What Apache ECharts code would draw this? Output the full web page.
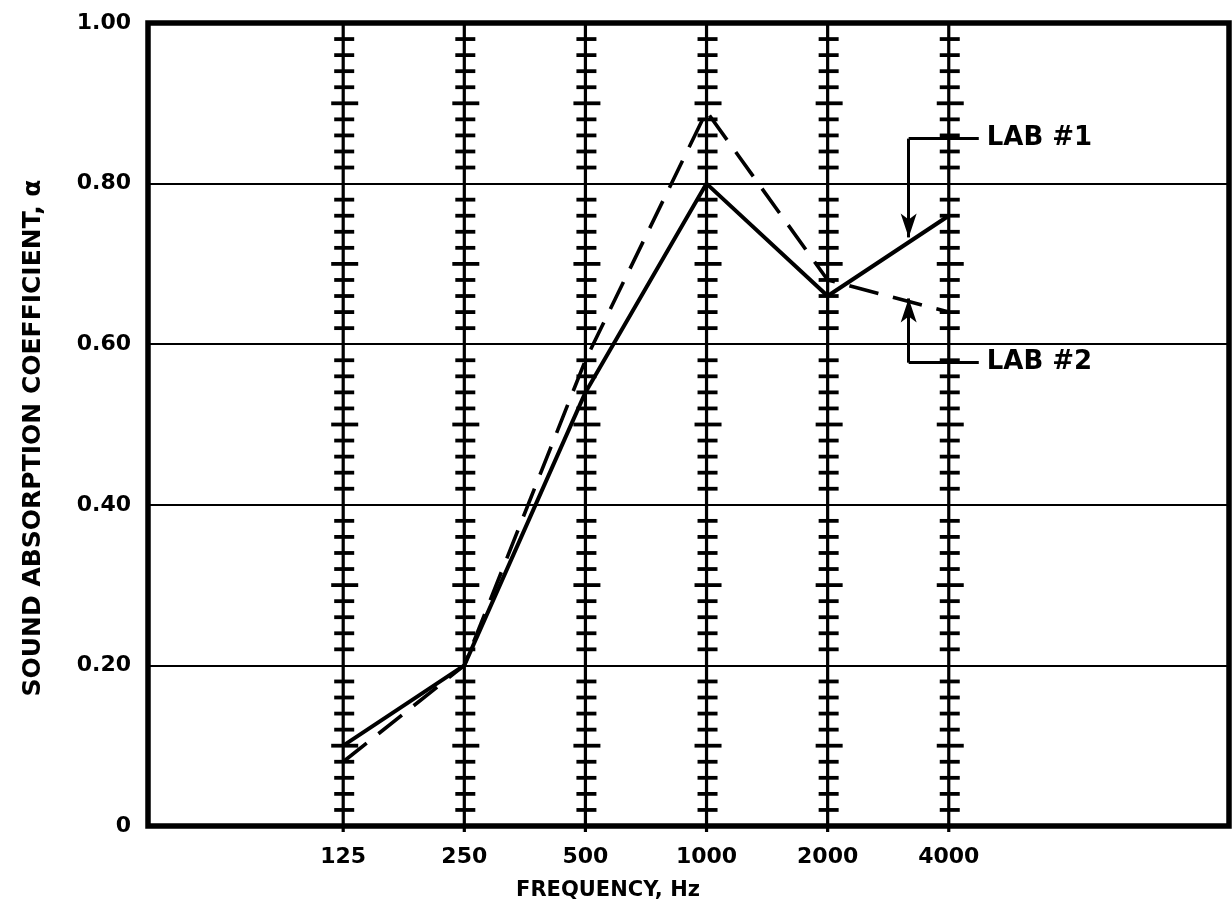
<!DOCTYPE html>
<html>
<head>
<meta charset="utf-8">
<title>Sound absorption coefficient</title>
<script src="https://cdn.jsdelivr.net/npm/echarts@6.0.0/dist/echarts.min.js"></script>
<style>
  html, body { margin: 0; padding: 0; background: #fff; }
  #main { width: 1232px; height: 915px; }
</style>
</head>
<body>
<div id="main"></div>
<script>
  // 数据
  let freqs = [125, 250, 500, 1000, 2000, 4000];
  let freqLabels = ['125', '250', '500', '1000', '2000', '4000'];
  let lab1 = [0.10, 0.20, 0.54, 0.80, 0.66, 0.76];
  let lab2 = [0.08, 0.20, 0.58, 0.89, 0.68, 0.64];

  // x轴范围 (log2)
  let xMin = 40.9, xMax = 19890;
  let font = 'DejaVu Sans';

  // 竖线上的刻度 (每0.02)
  let hashVals = [];
  for (let k = 1; k < 50; k++) {
    if (k % 10 !== 0) hashVals.push({ v: k * 0.02, long: k % 5 === 0 });
  }

  function renderHash(params, api) {
    let f = api.value(0);
    let top = api.coord([f, 1]);
    let bot = api.coord([f, 0]);
    let x = bot[0];
    let children = [{
      type: 'line',
      shape: { x1: x, y1: top[1], x2: x, y2: bot[1] + 6 },
      style: { stroke: '#000', lineWidth: 3.2 }
    }];
    for (let i = 0; i < hashVals.length; i++) {
      let p = api.coord([f, hashVals[i].v]);
      let l = hashVals[i].long ? 12 : 9;
      let r = hashVals[i].long ? 15 : 11;
      children.push({
        type: 'line',
        shape: { x1: x - l, y1: p[1], x2: x + r, y2: p[1] },
        style: { stroke: '#000', lineWidth: 3.8 }
      });
    }
    return { type: 'group', children: children };
  }

  let labelStyle = { color: '#000', fontFamily: font, fontWeight: 'bold', fontSize: 26 };

  let myChart = echarts.init(document.getElementById('main'));
  myChart.setOption({
    animation: false,
    grid: {
      left: 148, right: 3, top: 23, bottom: 89,
      show: true, borderColor: '#000', borderWidth: 5.5
    },
    xAxis: {
      type: 'log', logBase: 2, min: xMin, max: xMax,
      axisLine: { show: false },
      axisTick: { show: false },
      splitLine: { show: false },
      axisLabel: {
        customValues: freqs,
        margin: 20,
        color: '#000',
        fontFamily: font, fontWeight: 'bold', fontSize: 22,
        formatter: function (v) {
          let i = freqs.indexOf(Math.round(v));
          return i >= 0 ? freqLabels[i] : '';
        }
      }
    },
    yAxis: {
      type: 'value', min: 0, max: 1, interval: 0.2,
      axisLine: { show: false },
      axisTick: { show: false },
      splitLine: { show: true, lineStyle: { color: '#000', width: 2.2 } },
      axisLabel: {
        margin: 17,
        color: '#000',
        fontFamily: font, fontWeight: 'bold', fontSize: 22,
        formatter: function (v) {
          return v === 0 ? '0' : v.toFixed(2);
        }
      }
    },
    graphic: [
      {
        type: 'text', x: 33, y: 438, rotation: Math.PI / 2,
        style: {
          text: 'SOUND ABSORPTION COEFFICIENT, α',
          fill: '#000', font: 'bold 25px "DejaVu Sans"',
          align: 'center', verticalAlign: 'middle'
        }
      },
      {
        type: 'text', x: 608, y: 891,
        style: {
          text: 'FREQUENCY, Hz',
          fill: '#000', font: 'bold 21px "DejaVu Sans"',
          align: 'center', verticalAlign: 'middle'
        }
      }
    ],
    series: [
      {
        type: 'custom',
        silent: true,
        renderItem: renderHash,
        data: freqs.map(function (f) { return [f, 0]; }),
        z: 1
      },
      {
        name: 'LAB #1',
        type: 'line',
        data: freqs.map(function (f, i) { return [f, lab1[i]]; }),
        symbol: 'none',
        lineStyle: { color: '#000', width: 4 },
        z: 3,
        markLine: {
          silent: true,
          symbol: ['none', 'none'],
          lineStyle: { color: '#000', width: 3, type: 'solid' },
          label: { show: false },
          data: [
            [{ coord: [3180, 0.856] }, {
              coord: [4750, 0.856],
              label: Object.assign({ show: true, position: 'end', distance: 8, formatter: 'LAB #1' }, labelStyle)
            }],
            [{ coord: [3180, 0.856], symbol: 'none' }, { coord: [3180, 0.733], symbol: 'arrow', symbolSize: [12, 24] }],
            [{ coord: [3180, 0.577] }, {
              coord: [4750, 0.577],
              label: Object.assign({ show: true, position: 'end', distance: 8, formatter: 'LAB #2' }, labelStyle)
            }],
            [{ coord: [3180, 0.577], symbol: 'none' }, { coord: [3180, 0.657], symbol: 'arrow', symbolSize: [12, 24] }]
          ]
        }
      },
      {
        name: 'LAB #2',
        type: 'line',
        data: freqs.map(function (f, i) { return [f, lab2[i]]; }),
        symbol: 'none',
        lineStyle: { color: '#000', width: 3.6, type: [30, 15] },
        z: 3
      }
    ]
  });

  window.addEventListener('resize', function () {
    myChart.resize();
  });
</script>
</body>
</html>
